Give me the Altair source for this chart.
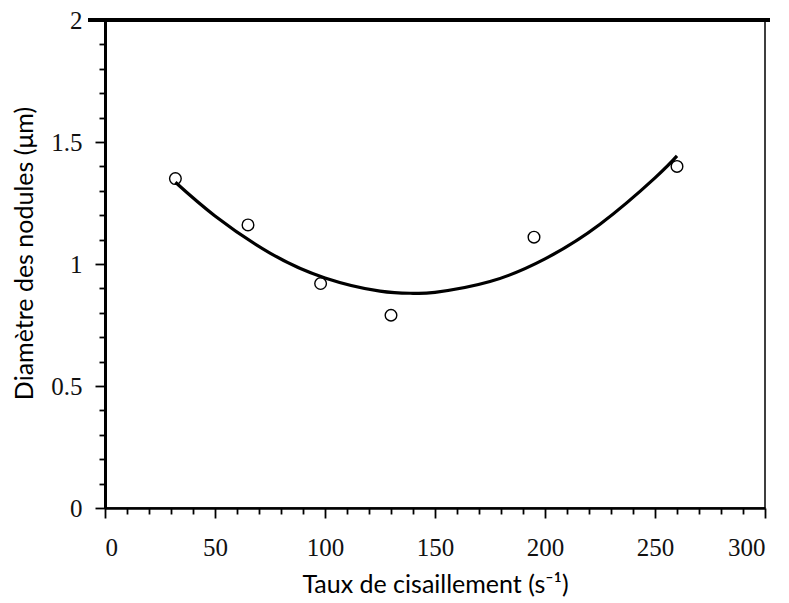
import altair as alt
import pandas as pd

# Measured points (shear rate, nodule diameter)
shear_rate = [32, 65, 98, 130, 195, 260]
diameter = [1.35, 1.16, 0.92, 0.79, 1.11, 1.40]

# Points
fit_x = [32, 50, 75, 100, 125, 140, 150, 175, 200, 225, 250, 260]
fit_y = [1.335, 1.197, 1.045, 0.943, 0.889, 0.880, 0.884, 0.928, 1.021, 1.163, 1.353, 1.443]

# Axis tick positions
x_ticks = list(range(0, 301, 10))
y_ticks = [round(i * 0.1, 1) for i in range(21)]

x_title = "Taux de cisaillement (s⁻¹)"
y_title = "Diamètre des nodules (μm)"

pts = pd.DataFrame({"x": shear_rate, "y": diameter})
fit = pd.DataFrame({"x": fit_x, "y": fit_y})

xscale = alt.Scale(domain=[0, 300], nice=False, zero=False)
yscale = alt.Scale(domain=[0, 2], nice=False, zero=False)

x_axis = alt.Axis(
    values=x_ticks,
    title=x_title,
    labelExpr="datum.value % 50 == 0 ? format(datum.value, '~g') : ''",
    tickSize={"condition": {"test": "datum.value % 50 == 0", "value": 10}, "value": 6},
    labelPadding=17,
    labelOverlap=False,
    grid=False,
    titleX=330,
    titleY=76,
    titleAlign="center",
    titleBaseline="middle",
)
y_axis = alt.Axis(
    values=y_ticks,
    title=y_title,
    labelExpr="round(datum.value * 10) % 5 == 0 ? format(datum.value, '~g') : ''",
    tickSize={"condition": {"test": "round(datum.value * 10) % 5 == 0", "value": 10}, "value": 6},
    labelPadding=13,
    labelOverlap=False,
    grid=False,
    titleX=-81,
    titleY=233,
    titleAngle=-90,
    titleAlign="center",
    titleBaseline="middle",
)

points = alt.Chart(pts).mark_point(
    shape="circle", size=135, filled=False, color="black", strokeWidth=1.4, fill="white", fillOpacity=1
).encode(
    x=alt.X("x:Q", scale=xscale, axis=x_axis),
    y=alt.Y("y:Q", scale=yscale, axis=y_axis),
)

curve = alt.Chart(fit).mark_line(color="black", strokeWidth=3.2, interpolate="natural").encode(
    x=alt.X("x:Q", scale=xscale, axis=x_axis),
    y=alt.Y("y:Q", scale=yscale, axis=y_axis),
)

top_border = alt.Chart(pts).mark_rule(color="black", strokeWidth=4).encode(
    y=alt.Y(datum=2, scale=yscale, axis=y_axis),
    x=alt.value(-17),
    x2=alt.value(665),
)

chart = alt.layer(points, curve, top_border).properties(
    width=660,
    height=488,
    autosize=alt.AutoSizeParams(type="none"),
    padding={"left": 97, "top": 12, "right": 16, "bottom": 95},
).configure_view(
    stroke="black", strokeWidth=1.5
).configure_axis(
    domainColor="black",
    tickColor="black",
    tickWidth=1.8,
    labelFont="Liberation Serif",
    labelFontSize=25,
    labelColor="#111111",
    titleFont="Lato",
    titleFontSize=25,
    titleFontWeight="normal",
    titleColor="black",
).configure_axisX(domainWidth=2.5).configure_axisY(domainWidth=3)

chart.save("out.html", embed_options={"renderer": "svg", "actions": False})
